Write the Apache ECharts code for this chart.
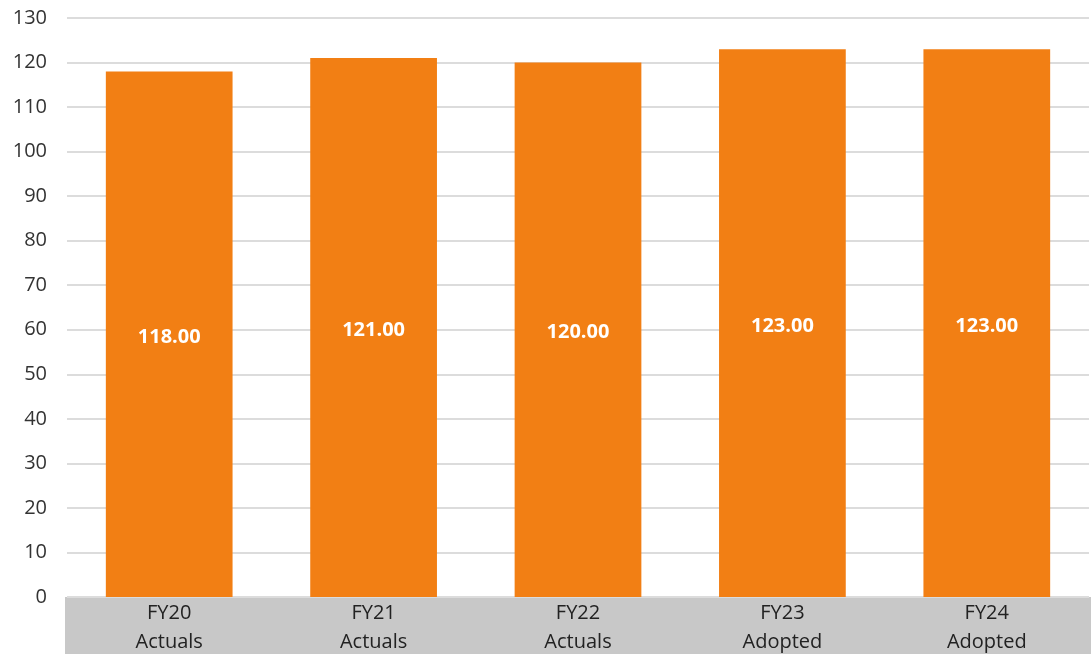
<!DOCTYPE html>
<html>
<head>
<meta charset="utf-8">
<script src="https://cdn.jsdelivr.net/npm/echarts@6/dist/echarts.min.js"></script>
<style>
  html, body { margin: 0; padding: 0; background: #fff; }
  #chart { width: 1091px; height: 654px; }
</style>
</head>
<body>
<div id="chart"></div>
<script>
  // chart data
  var categories = ['FY20\nActuals', 'FY21\nActuals', 'FY22\nActuals', 'FY23\nAdopted', 'FY24\nAdopted'];
  var values = [118, 121, 120, 123, 123];

  var chart = echarts.init(document.getElementById('chart'));
  var option = {
    animation: false,
    textStyle: { fontFamily: 'Open Sans' },
    grid: { left: 67, right: 2, top: 18, bottom: 57, outerBoundsMode: 'none' },
    graphic: [{
      type: 'rect',
      left: 65,
      bottom: 0,
      z: -1,
      shape: { width: 1026, height: 57 },
      style: { fill: '#c8c8c8' }
    }],
    xAxis: {
      type: 'category',
      data: categories,
      axisLine: { show: false },
      axisTick: { show: false },
      axisLabel: {
        color: '#222',
        fontSize: 20,
        lineHeight: 29,
        margin: 2
      }
    },
    yAxis: {
      type: 'value',
      min: 0,
      max: 130,
      interval: 10,
      axisLine: { show: false },
      axisTick: { show: false },
      axisLabel: {
        color: '#333',
        fontSize: 20,
        margin: 20
      },
      splitLine: { lineStyle: { color: '#dcdcdc', width: 2 } }
    },
    series: [{
      type: 'bar',
      data: values,
      barWidth: '62%',
      itemStyle: { color: '#f27f14' },
      label: {
        show: true,
        position: 'inside',
        offset: [0, 3],
        color: '#fff',
        fontWeight: 'bold',
        fontSize: 20,
        formatter: function (p) { return p.value.toFixed(2); }
      }
    }]
  };
  chart.setOption(option);
</script>
</body>
</html>
